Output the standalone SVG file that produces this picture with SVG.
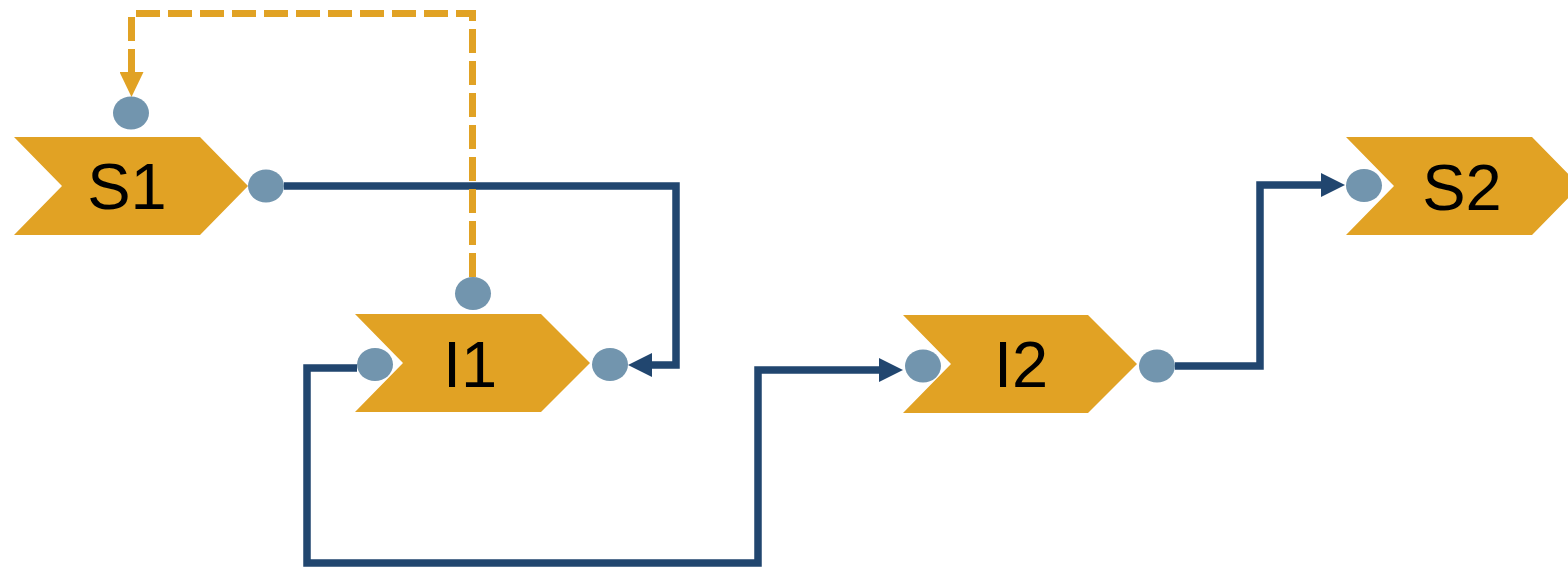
<svg xmlns="http://www.w3.org/2000/svg" width="1568" height="567" viewBox="0 0 1568 567">
<style>
.shape{fill:#E1A224}
.port{fill:#7295AE}
.lbl{font-family:"Liberation Sans",Arial,sans-serif;font-size:65px;fill:#000;text-anchor:middle}
.flow{fill:none;stroke:#21466F;stroke-width:7.5}
.dash{fill:none;stroke:#E1A224;stroke-width:7;stroke-dasharray:24 8}
</style>
<defs>
<marker id="ab" markerUnits="userSpaceOnUse" markerWidth="24" markerHeight="24" refX="0" refY="12" orient="auto">
<path d="M0,0 L24,12 L0,24 Z" fill="#21466F"/>
</marker>
<marker id="ao" markerUnits="userSpaceOnUse" markerWidth="25" markerHeight="24" refX="0" refY="12" orient="auto">
<path d="M0,0 L25,12 L0,24 Z" fill="#E1A224"/>
</marker>
</defs>
<rect width="1568" height="567" fill="#fff"/>
<g id="connectors">
<path class="flow" d="M284,186 H676 V365 H652" marker-end="url(#ab)"/>
<path class="flow" d="M357,368 H307 V563 H758 V370 H879" marker-end="url(#ab)"/>
<path class="flow" d="M1175,366 H1260 V185 H1321" marker-end="url(#ab)"/>
<path class="dash" d="M472.5,277 V13.5 H131.5 V72" marker-end="url(#ao)"/>
</g>
<g id="S1">
<polygon class="shape" points="14,137 200,137 248,186 200,235 14,235 62,186"/>
<text class="lbl" x="127" y="209">S1</text>
<ellipse class="port" cx="131" cy="113" rx="18" ry="16.5"/>
<ellipse class="port" cx="266" cy="186" rx="18" ry="16.5"/>
</g>
<g id="I1">
<polygon class="shape" points="355,314 541,314 590,363 541,412 355,412 403,363"/>
<text class="lbl" x="470" y="387">I1</text>
<ellipse class="port" cx="473" cy="293.5" rx="18" ry="16.5"/>
<ellipse class="port" cx="375" cy="364.5" rx="18" ry="16.5"/>
<ellipse class="port" cx="610" cy="364.5" rx="18" ry="16.5"/>
</g>
<g id="I2">
<polygon class="shape" points="903,315 1088,315 1137,364 1088,413 903,413 951,364"/>
<text class="lbl" x="1021" y="387">I2</text>
<ellipse class="port" cx="923" cy="366" rx="18" ry="16.5"/>
<ellipse class="port" cx="1157" cy="366" rx="18" ry="16.5"/>
</g>
<g id="S2">
<polygon class="shape" points="1346,137 1532,137 1580,186 1532,235 1346,235 1394,186"/>
<text class="lbl" x="1462" y="210">S2</text>
<ellipse class="port" cx="1364" cy="185.5" rx="18" ry="16.5"/>
</g>
</svg>
